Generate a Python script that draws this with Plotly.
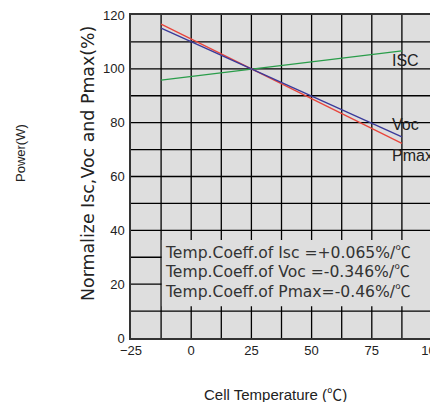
import plotly.graph_objects as go

temps = [-12.5, 87.5]
isc = [95.8, 106.7]
voc = [115.1, 74.7]
pmax = [116.6, 72.3]
x_ticks = [-25, 0, 25, 50, 75, 100]
y_ticks = [0, 20, 40, 60, 80, 100, 120]
CEL = '<span style="font-family:\'Noto Sans CJK SC\'">℃</span>'
coeff_lines = ["Temp.Coeff.of Isc =+0.065%/" + CEL,
               "Temp.Coeff.of Voc =-0.346%/" + CEL,
               "Temp.Coeff.of Pmax=-0.46%/" + CEL]

OFF = 8  # page body margin
W, H = 438 - OFF, 402 - OFF
ML, MR, MT, MB = 131 - OFF, 6, 15 - OFF, 64

fig = go.Figure()
fig.add_trace(go.Scatter(x=temps, y=isc, mode="lines", line=dict(color="#2a9d4a", width=1.3), name="ISC"))
fig.add_trace(go.Scatter(x=temps, y=pmax, mode="lines", line=dict(color="#e8453c", width=1.3), name="Pmax"))
fig.add_trace(go.Scatter(x=temps, y=voc, mode="lines", line=dict(color="#3a3a9a", width=1.3), name="Voc"))

fig.update_layout(
    width=W, height=H,
    margin=dict(l=ML, r=MR, t=MT, b=MB, autoexpand=False),
    paper_bgcolor="white", plot_bgcolor="#dedede",
    showlegend=False,
    font=dict(family="Liberation Sans, Arial", size=13, color="#222"),
)
fig.update_xaxes(range=[-25, 100], tickmode="array", tickvals=x_ticks,
                 ticktext=[str(v).replace("-", "−") for v in x_ticks],
                 showgrid=False, ticks="", zeroline=False, automargin=False, ticklabeloverflow="allow",
                 showline=True, linecolor="#333", linewidth=1.5, mirror=True)
fig.update_yaxes(range=[0, 120], tickmode="array", tickvals=y_ticks, showgrid=False, zeroline=False,
                 ticks="", automargin=False, ticklabeloverflow="allow",
                 showline=True, linecolor="#333", linewidth=1.5, mirror=True, ticklabelstandoff=2)

# grid lines every 12.5 in x and 10 in y
for i in range(1, 10):
    xv = -25 + 12.5 * i
    fig.add_shape(type="line", xref="x", yref="y", x0=xv, x1=xv, y0=0, y1=120,
                  line=dict(color="black", width=1.3), layer="below")
for j in range(1, 12):
    yv = 10 * j
    fig.add_shape(type="line", xref="x", yref="y", x0=-25, x1=100, y0=yv, y1=yv,
                  line=dict(color="black", width=1.3), layer="below")

# text box covering grid
fig.add_shape(type="rect", xref="x", yref="y", x0=-12.2, x1=99.6, y0=11.8, y1=36.4,
              fillcolor="#dedede", line=dict(width=0), layer="below")


def px(x):
    return (x - OFF - ML) / (W - ML - MR)


def py(y):
    return 1 - (y - OFF - MT) / (H - MT - MB)


for k, t in enumerate(coeff_lines):
    fig.add_annotation(x=px(163), y=py(250.7 + 19.7 * k), xref="paper", yref="paper", text=t, showarrow=False,
                       xanchor="left", yanchor="middle",
                       font=dict(family="DejaVu Sans", size=15.6, color="#333"))

for lbl, xx, yy in [("ISC", 390, 60), ("Voc", 390, 125), ("Pmax", 390, 156)]:
    fig.add_annotation(x=px(xx), y=py(yy), xref="paper", yref="paper", text=lbl, showarrow=False,
                       xanchor="left", yanchor="middle",
                       font=dict(family="Liberation Sans, Arial", size=16, color="#222"))

fig.add_annotation(x=px(88), y=py(164), xref="paper", yref="paper", text="Normalize Isc,Voc and Pmax(%)",
                   showarrow=False, textangle=-90, xanchor="center", yanchor="middle",
                   font=dict(family="DejaVu Sans", size=17.4, color="#222"))
fig.add_annotation(x=px(20), y=py(153), xref="paper", yref="paper", text="Power(W)",
                   showarrow=False, textangle=-90, xanchor="center", yanchor="middle",
                   font=dict(family="Liberation Sans, Arial", size=13, color="#222"))
fig.add_annotation(x=px(275), y=py(393), xref="paper", yref="paper", text="Cell Temperature (" + CEL + ")",
                   showarrow=False, xanchor="center", yanchor="middle",
                   font=dict(family="Liberation Sans, Arial", size=15, color="#222"))

fig.write_html("out.html")
